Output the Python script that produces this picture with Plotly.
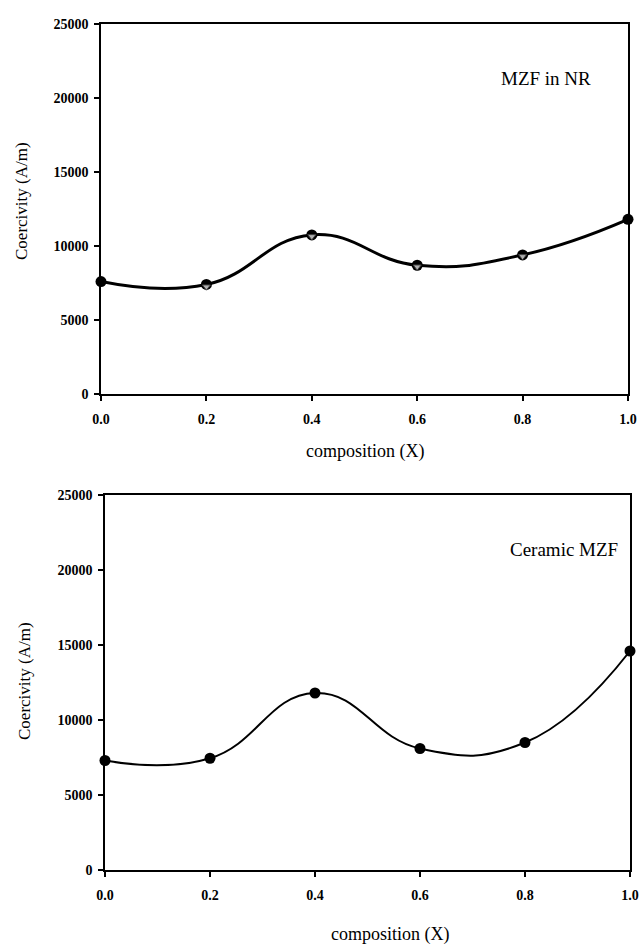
import plotly.graph_objects as go

composition = [0.0, 0.2, 0.4, 0.6, 0.8, 1.0]
mzf_in_nr = [7600, 7400, 10750, 8700, 9400, 11800]
mzf_in_nr_tri = [7300, 7250, 10650, 8600, 9300, 11700]
ceramic_mzf = [7300, 7450, 11800, 8100, 8500, 14600]
x_ticks = [0.0, 0.2, 0.4, 0.6, 0.8, 1.0]
x_tick_labels = ["0.0", "0.2", "0.4", "0.6", "0.8", "1.0"]
y_ticks = [0, 5000, 10000, 15000, 20000, 25000]
y_tick_labels = ["0", "5000", "10000", "15000", "20000", "25000"]

W, H = 639, 945
FONT = "Liberation Serif"

fig = go.Figure()

# Top panel
fig.add_trace(go.Scatter(
    x=composition, y=mzf_in_nr, mode="lines+markers",
    line=dict(color="black", width=3, shape="spline", smoothing=1.3),
    marker=dict(symbol="circle", size=11, color="black"),
    cliponaxis=False, xaxis="x", yaxis="y", showlegend=False))
fig.add_trace(go.Scatter(
    x=composition[1:5], y=mzf_in_nr_tri[1:5], mode="markers",
    marker=dict(symbol="triangle-down", size=7, color="#b0b0b0",
                line=dict(color="#404040", width=1)),
    cliponaxis=False, xaxis="x", yaxis="y", showlegend=False))

# Bottom panel
fig.add_trace(go.Scatter(
    x=composition, y=ceramic_mzf, mode="lines+markers",
    line=dict(color="black", width=2, shape="spline", smoothing=1.3),
    marker=dict(symbol="circle", size=11, color="black"),
    cliponaxis=False, xaxis="x2", yaxis="y2", showlegend=False))

def px_x(p):
    return p / W

def px_y(p):
    return 1 - p / H

tickfont = dict(family=FONT, size=14, color="black", weight="bold")
axis_common = dict(showline=True, linecolor="black", linewidth=1.5, mirror=True,
                   ticks="outside", ticklen=5, tickwidth=1.5, tickcolor="black",
                   showgrid=False, zeroline=False, tickfont=tickfont, automargin=False)

fig.update_layout(
    width=W, height=H,
    margin=dict(l=0, r=0, t=0, b=0, autoexpand=False),
    paper_bgcolor="white", plot_bgcolor="white",
    xaxis=dict(domain=[px_x(101), px_x(628)], range=[0, 1], anchor="y",
               tickvals=x_ticks, ticktext=x_tick_labels, ticklabelstandoff=6, **axis_common),
    yaxis=dict(domain=[px_y(394), px_y(24)], range=[0, 25000], anchor="x",
               tickvals=y_ticks, ticktext=y_tick_labels, ticklabelstandoff=3, **axis_common),
    xaxis2=dict(domain=[px_x(105), px_x(630)], range=[0, 1], anchor="y2",
                tickvals=x_ticks, ticktext=x_tick_labels, ticklabelstandoff=6, **axis_common),
    yaxis2=dict(domain=[px_y(870), px_y(495)], range=[0, 25000], anchor="x2",
                tickvals=y_ticks, ticktext=y_tick_labels, ticklabelstandoff=3, **axis_common),
)

title_font = dict(family=FONT, size=17, color="black")
C = dict(xanchor="center", yanchor="middle", showarrow=False)
ann = [
    dict(text="MZF in NR", x=0.845, y=21350, xref="x", yref="y",
         font=dict(family=FONT, size=19, color="black"), **C),
    dict(text="Ceramic MZF", x=0.875, y=21400, xref="x2", yref="y2",
         font=dict(family=FONT, size=19, color="black"), **C),
    dict(text="Coercivity (A/m)", x=px_x(21), y=px_y(201), xref="paper", yref="paper",
         textangle=-90, font=title_font, **C),
    dict(text="Coercivity (A/m)", x=px_x(24), y=px_y(681), xref="paper", yref="paper",
         textangle=-90, font=title_font, **C),
    dict(text="composition (X)", x=px_x(365), y=px_y(452), xref="paper", yref="paper",
         font=dict(family=FONT, size=18, color="black"), **C),
    dict(text="composition (X)", x=px_x(390), y=px_y(934), xref="paper", yref="paper",
         font=dict(family=FONT, size=18, color="black"), **C),
]
fig.update_layout(annotations=ann)

fig.write_html("out.html", config={"displayModeBar": False},
               post_script="document.body.style.margin='0';document.body.style.overflow='hidden';")
